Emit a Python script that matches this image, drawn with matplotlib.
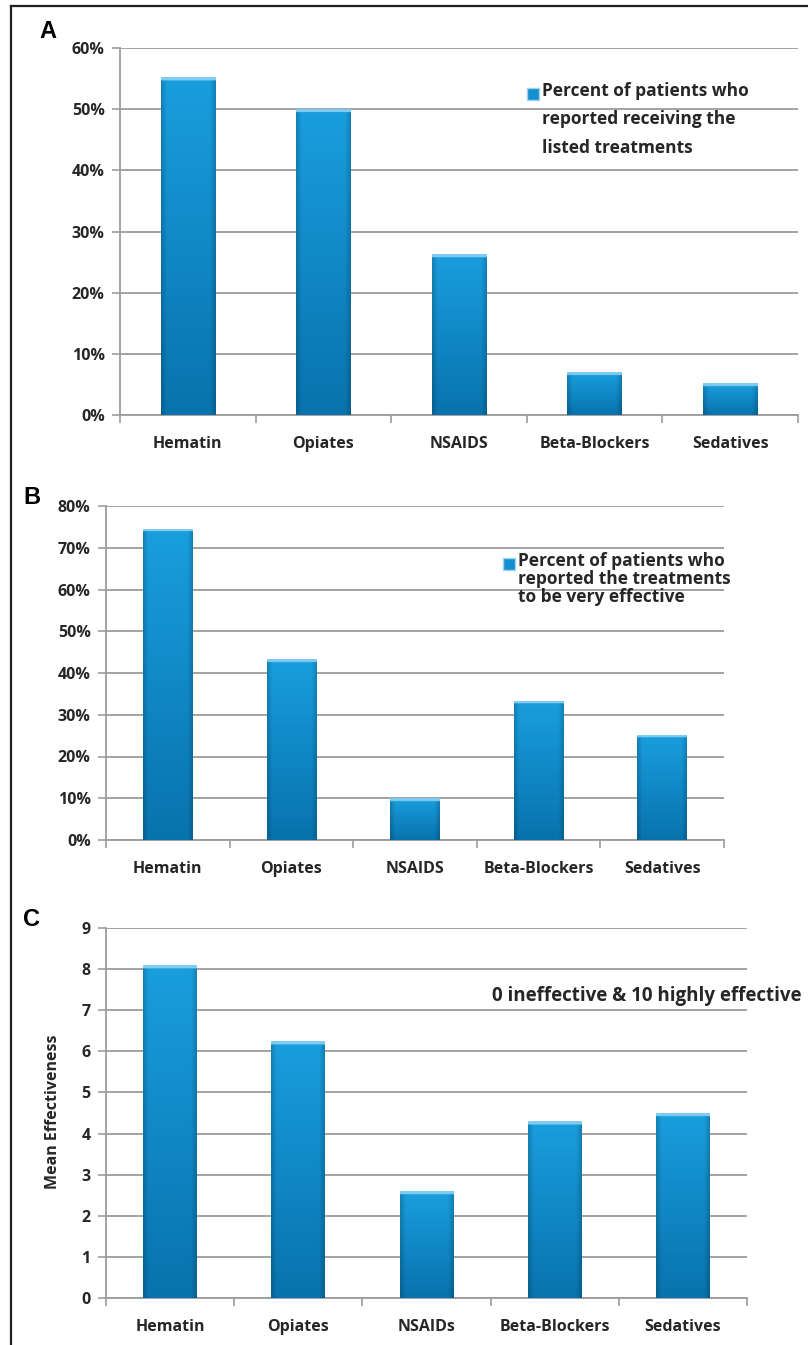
import matplotlib
matplotlib.use("Agg")
import matplotlib.pyplot as plt
import numpy as np
from matplotlib.lines import Line2D
from matplotlib.patches import Rectangle

# treatments and survey results
treat_a = ["Hematin", "Opiates", "NSAIDS", "Beta-Blockers", "Sedatives"]
received_pct = [55.2, 50.0, 26.3, 7.0, 5.2]

treat_b = ["Hematin", "Opiates", "NSAIDS", "Beta-Blockers", "Sedatives"]
very_effective_pct = [74.6, 43.3, 10.0, 33.3, 25.2]

treat_c = ["Hematin", "Opiates", "NSAIDs", "Beta-Blockers", "Sedatives"]
mean_effect = [8.1, 6.25, 2.6, 4.3, 4.5]

W, H = 808, 1345
FONT = "Open Sans"
TXT = "#262626"
GRID = "#9c9c9c"

fig = plt.figure(figsize=(W / 100, H / 100), dpi=100)


def axes_px(left, top, right, bottom):
    return fig.add_axes([left / W, 1 - bottom / H, (right - left) / W, (bottom - top) / H])


def bar_gradient(ax, bars, ymax):
    """paint the excel-like blue gradient inside each bar"""
    ax_h = ax.get_window_extent().height
    for p in bars:
        x0, y0, w, h = p.get_x(), p.get_y(), p.get_width(), p.get_height()
        hpx = max(h / ymax * ax_h, 1)
        rows, cols = 300, 60
        t = np.linspace(0, 1, rows)[:, None]          # 0 bottom -> 1 top
        s = np.linspace(-1, 1, cols)[None, :]
        top = np.array([0.10, 0.62, 0.87])
        bot = np.array([0.03, 0.45, 0.68])
        img = bot + (top - bot) * t[..., None]
        edge = 1 - 0.18 * np.clip((np.abs(s) - 0.8) / 0.2, 0, 1)
        img = img * edge[..., None]
        # light rim at the top of the bar
        cap = (1 - t) * hpx < 3.0
        img[cap[:, 0]] = np.array([0.50, 0.80, 0.95])
        img = np.clip(img, 0, 1)
        im = ax.imshow(img, extent=(x0, x0 + w, y0, y0 + h),
                       origin="lower", aspect="auto", zorder=3, interpolation="bilinear")
        im.set_clip_path(p)


def panel(ax, cats, vals, ymax, step, width, pct):
    x = np.arange(len(cats))
    bars = ax.bar(x, vals, width=width, color="#0d80c0", zorder=2, linewidth=0)
    ax.set_xlim(-0.5, len(cats) - 0.5)
    ax.set_ylim(0, ymax)
    yt = np.arange(0, ymax + step / 2, step)
    ax.set_yticks(yt)
    ax.set_yticklabels([f"{v:g}%" if pct else f"{v:g}" for v in yt],
                       fontsize=11.5, fontweight="bold", color=TXT, family=FONT)
    ax.set_xticks(x)
    ax.set_xticklabels(cats, fontsize=11.5, fontweight="bold", color=TXT, family=FONT)
    ax.set_xticks(np.arange(-0.5, len(cats)), minor=True)
    ax.tick_params(axis="x", which="major", length=0, pad=15)
    ax.tick_params(axis="x", which="minor", length=6, color=GRID, width=1.2, direction="out")
    ax.tick_params(axis="y", length=6, color=GRID, width=1.2, direction="out", pad=5)
    ax.grid(axis="y", color=GRID, linewidth=1.3, zorder=0)
    ax.set_axisbelow(True)
    for side in ("top", "right"):
        ax.spines[side].set_visible(False)
    for side in ("left", "bottom"):
        ax.spines[side].set_color(GRID)
        ax.spines[side].set_linewidth(1.3)
    bar_gradient(ax, bars, ymax)
    ax.set_xlim(-0.5, len(cats) - 0.5)
    ax.set_ylim(0, ymax)
    return bars


def legend_box(x, y, lines, spacing):
    r = Rectangle((x / W, 1 - (y + 6) / H), 12 / W, 12 / H, transform=fig.transFigure,
                  facecolor="#1490d0", edgecolor="#9fd4f0", linewidth=1.0)
    fig.add_artist(r)
    fig.text((x + 15) / W, 1 - (y - 12) / H, "\n".join(lines), ha="left", va="top",
             fontsize=12.5, fontweight="bold", color=TXT, family=FONT, linespacing=spacing)


# panel A
ax_a = axes_px(120, 48, 798, 415)
panel(ax_a, treat_a, received_pct, 60, 10, 0.40, True)
legend_box(527, 94, ["Percent of patients who", "reported receiving the", "listed treatments"], 1.75)

# panel B
ax_b = axes_px(106, 506, 724, 840)
panel(ax_b, treat_b, very_effective_pct, 80, 10, 0.40, True)
legend_box(503, 564, ["Percent of patients who", "reported the treatments", "to be very effective"], 1.0)

# panel C
ax_c = axes_px(106, 928, 747, 1298)
panel(ax_c, treat_c, mean_effect, 9, 1, 0.42, False)
fig.text(492 / W, 1 - 996 / H, "0 ineffective & 10 highly effective", ha="left", va="center",
         fontsize=13.5, fontweight="bold", color=TXT, family=FONT)
fig.text(53 / W, 1 - 1112 / H, "Mean Effectiveness", rotation=90, ha="center", va="center",
         fontsize=11.5, fontweight="bold", color=TXT, family=FONT)

# panel letters
for lab, (px, py) in {"A": (48, 31), "B": (32, 497), "C": (32, 920)}.items():
    fig.text(px / W, 1 - py / H, lab, ha="center", va="center", fontsize=17,
             fontweight="bold", family="Liberation Sans", color="black")

# outer frame on the left and top
fig.add_artist(Line2D([11 / W, 11 / W], [0, 1 - 6 / H], transform=fig.transFigure,
                      color="#222222", linewidth=1.6))
fig.add_artist(Line2D([11 / W, 1], [1 - 6 / H, 1 - 6 / H], transform=fig.transFigure,
                      color="#222222", linewidth=1.6))

fig.savefig("out.png", dpi=100)
